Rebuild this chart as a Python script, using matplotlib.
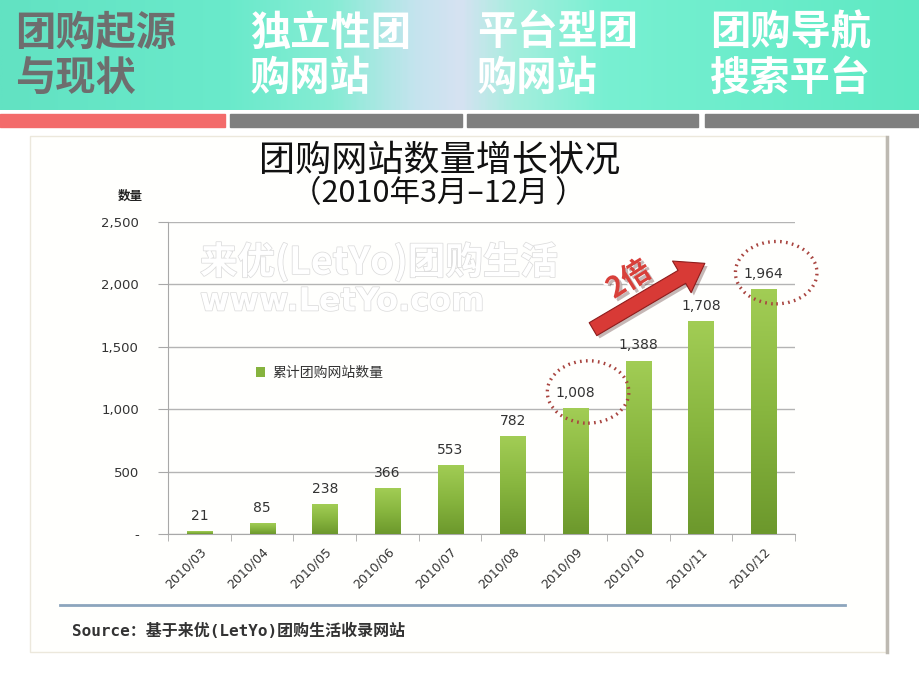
import numpy as np
import matplotlib
matplotlib.use("Agg")
import matplotlib.pyplot as plt
import matplotlib.patches as mpatches
import matplotlib.patheffects as pe
from matplotlib.colors import LinearSegmentedColormap
from matplotlib.ticker import FuncFormatter, MultipleLocator

plt.rcParams['font.family'] = ['Noto Sans CJK SC', 'DejaVu Sans']

# data
months = ['2010/03', '2010/04', '2010/05', '2010/06', '2010/07',
          '2010/08', '2010/09', '2010/10', '2010/11', '2010/12']
sites = [21, 85, 238, 366, 553, 782, 1008, 1388, 1708, 1964]
series_name = '累计团购网站数量'
headers = [('团购起源', '与现状'), ('独立性团', '购网站'),
           ('平台型团', '购网站'), ('团购导航', '搜索平台')]
header_x = [15, 250, 477, 710]
title1 = '团购网站数量增长状况'
title2 = '（2010年3月–12月 ）'
source = 'Source：基于来优(LetYo)团购生活收录网站'

W, H = 920, 690
fig = plt.figure(figsize=(W / 100, H / 100), dpi=100)
fig.patch.set_facecolor('white')

# background axes in pixel coords
bg = fig.add_axes([0, 0, 1, 1])
bg.set_xlim(0, W)
bg.set_ylim(H, 0)
bg.axis('off')

# banner gradient
stops = [(0.0, '#62e2c2'), (0.25, '#6aeacb'), (0.36, '#86ecd4'), (0.45, '#c4e4ee'),
         (0.50, '#d6e2f2'), (0.56, '#a6eede'), (0.66, '#78f0d2'), (1.0, '#5ee9c3')]
cmap = LinearSegmentedColormap.from_list('banner', stops)
grad = np.linspace(0, 1, 400).reshape(1, -1)
bg.imshow(grad, cmap=cmap, extent=(0, W, 110, 0), aspect='auto', zorder=0)

# tab bars
bg.add_patch(mpatches.Rectangle((0, 114), 225, 13, color='#f36b6b', zorder=1))
for x0, x1 in [(230, 462), (467, 698), (705, 920)]:
    bg.add_patch(mpatches.Rectangle((x0, 114), x1 - x0, 13, color='#7f7f7f', zorder=1))

for i, (l1, l2) in enumerate(headers):
    col = '#6e6e6e' if i == 0 else 'white'
    bg.text(header_x[i], 33, l1, fontsize=29, fontweight='bold', color=col,
            va='center', ha='left')
    bg.text(header_x[i], 78, l2, fontsize=29, fontweight='bold', color=col,
            va='center', ha='left')

# chart frame
bg.add_patch(mpatches.Rectangle((30, 136), 856, 516, facecolor='#fffffd',
                                edgecolor='#ece8dc', lw=1, zorder=1))
bg.plot([887, 887], [137, 652], color='#bdb9b1', lw=2.5, zorder=2)

bg.text(440, 160, title1, fontsize=26, ha='center', va='center', color='#111111')
bg.text(438, 194, title2, fontsize=22, ha='center', va='center', color='#111111')
bg.text(130, 196, '数量', fontsize=9, fontweight='bold', ha='center', va='center', color='#222222')

# watermark
wm = [pe.Stroke(linewidth=1.1, foreground='#dcdcdc'), pe.Normal()]
bg.text(200, 262, '来优(LetYo)团购生活', fontsize=27, fontweight='bold', color='white',
        ha='left', va='center', path_effects=wm, zorder=3)
bg.text(200, 302, 'www.LetYo.com', fontsize=23, fontweight='bold', color='white',
        ha='left', va='center', path_effects=wm, zorder=3,
        family=['DejaVu Sans'])

bg.plot([60, 845], [605, 605], color='#8ca5bd', lw=2, zorder=2)
bg.text(72, 631, source, fontsize=11.5, fontweight='bold', color='#333333',
        ha='left', va='center', family=['DejaVu Sans Mono', 'Noto Sans CJK SC'])

# main chart
ax = fig.add_axes([168 / W, 1 - 534 / H, (795 - 168) / W, (534 - 222) / H])
ax.patch.set_alpha(0)
x = np.arange(len(months))
bars = ax.bar(x, sites, width=0.4, color='#86b33e', zorder=3, label=series_name)
gcmap = LinearSegmentedColormap.from_list('bar', ['#6c982c', '#88b63f', '#a2cd55'])
vgrad = np.linspace(0, 1, 256).reshape(-1, 1)
for b in bars:
    im = ax.imshow(vgrad, cmap=gcmap, origin='lower', aspect='auto', zorder=3,
                   extent=(b.get_x(), b.get_x() + b.get_width(), 0, b.get_height()))
    im.set_clip_path(b)

for xi, v in zip(x, sites):
    ax.annotate(f'{v:,}', (xi, v), xytext=(0, 6), textcoords='offset points',
                ha='center', va='bottom', fontsize=10, color='#333333',
                family=['DejaVu Sans'], zorder=5)

ax.set_xlim(-0.5, len(months) - 0.5)
ax.set_ylim(0, 2500)
ax.yaxis.set_major_locator(MultipleLocator(500))
ax.yaxis.set_major_formatter(FuncFormatter(lambda v, p: f'{v:,.0f}' if v else '-'))
ax.grid(axis='y', color='#b4b4b4', lw=1, zorder=0)
ax.set_axisbelow(True)
for s in ['top', 'right']:
    ax.spines[s].set_visible(False)
ax.spines['left'].set_color('#a8a8a8')
ax.spines['bottom'].set_color('#a8a8a8')
ax.tick_params(axis='y', length=7, color='#a8a8a8', labelsize=9.5, labelcolor='#333333', pad=14)
ax.set_xticks(x)
ax.set_xticklabels(months, rotation=45, ha='right', rotation_mode='anchor',
                   fontsize=9, color='#333333', family=['DejaVu Sans'])
ax.tick_params(axis='x', which='major', length=0, pad=8)
ax.set_xticks(np.arange(-0.5, len(months)), minor=True)
ax.tick_params(axis='x', which='minor', length=5, color='#a8a8a8')
for lab in ax.get_yticklabels():
    lab.set_family(['DejaVu Sans'])

leg = ax.legend(loc='upper left', bbox_to_anchor=(0.12, 0.58), frameon=False,
                fontsize=10, handlelength=0.7, handleheight=0.7, handletextpad=0.5)
for t in leg.get_texts():
    t.set_color('#333333')

# highlight circles
for idx in [6, 9]:
    ell = mpatches.Ellipse((idx + 0.2, sites[idx] + 130), 1.3, 500, fill=False,
                           edgecolor='#a8443f', lw=2.4, linestyle=(0, (0.5, 1.3)),
                           zorder=6, clip_on=False)
    ax.add_patch(ell)

# growth arrow
arr = mpatches.FancyArrowPatch((6.24, 1630), (8.1, 2180),
                               arrowstyle='simple,head_width=2.2,head_length=1.6,tail_width=0.9',
                               mutation_scale=12, facecolor='#d83a36', edgecolor='#8e1c1c',
                               lw=0.8, zorder=6, clip_on=False)
arr.set_path_effects([pe.SimplePatchShadow(offset=(2, -2), alpha=0.3), pe.Normal()])
ax.add_patch(arr)
ax.text(6.85, 2040, '2倍', rotation=32, fontsize=21, fontweight='bold', color='#d8403a',
        ha='center', va='center', zorder=7,
        path_effects=[pe.Stroke(linewidth=3, foreground='white'),
                      pe.SimplePatchShadow(offset=(2, -2), alpha=0.3), pe.Normal()])

fig.savefig('out.png', dpi=100)
